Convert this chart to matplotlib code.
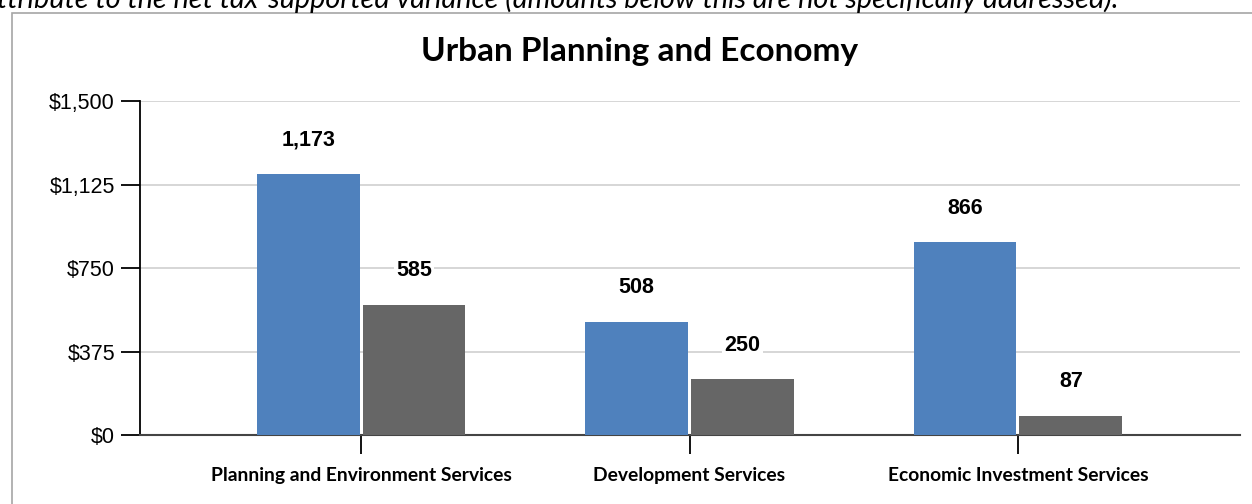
import matplotlib.pyplot as plt
from matplotlib.patches import Rectangle

# --- data --- #
categories = ["Planning and Environment Services", "Development Services", "Economic Investment Services"]
series_a = [1173, 508, 866]
series_b = [585, 250, 87]
y_ticks = [0, 375, 750, 1125, 1500]
y_tick_labels = ["$0", "$375", "$750", "$1,125", "$1,500"]

blue = "#4f81bd"
grey = "#666666"

fig = plt.figure(figsize=(12.52, 5.04), dpi=100)

# outer chart box (cut at right / bottom like the screenshot)
fig.patches.append(Rectangle((12 / 1252, -0.1), 1.2, 1 - 13 / 504 + 0.1,
                             transform=fig.transFigure, fill=False,
                             edgecolor="#a6a6a6", linewidth=1.2))

# clipped line of text from the document above the chart
fig.text(-0.002, 1 - 8 / 504, "ttribute to the net tax-supported variance (amounts below this are not specifically addressed).",
         fontsize=20.8, style="italic", family="Lato", ha="left", va="baseline")

fig.text(640 / 1252, 1 - 52 / 504, "Urban Planning and Economy", fontsize=24,
         fontweight="bold", family="Lato", ha="center", va="center")

ax = fig.add_axes([140 / 1252, 1 - 435 / 504, 1100 / 1252, 334 / 504])

x = list(range(len(categories)))
w = 0.313
off = 0.161
bars_a = ax.bar([i - off for i in x], series_a, width=w, color=blue, zorder=3)
bars_b = ax.bar([i + off for i in x], series_b, width=w, color=grey, zorder=3)

for bars in (bars_a, bars_b):
    for b in bars:
        v = b.get_height()
        ax.annotate(f"{v:,.0f}", (b.get_x() + b.get_width() / 2, v),
                    xytext=(0, 24.5), textcoords="offset points",
                    ha="center", va="center", fontsize=15.5, fontweight="bold",
                    family="Liberation Sans", zorder=4,
                    bbox=dict(boxstyle="square,pad=0.1", fc="white", ec="none"))

ax.set_xlim(-0.673, 2.676)
ax.set_ylim(0, 1500)
ax.set_yticks(y_ticks)
ax.set_yticklabels(y_tick_labels, fontsize=15.5, family="Liberation Sans")
ax.set_xticks(x)
ax.set_xticklabels(categories, fontsize=13.9, fontweight="bold", family="Lato")

ax.yaxis.grid(True, color="#d0d0d0", linewidth=1.2, zorder=0)
ax.set_axisbelow(True)

for s in ("top", "right"):
    ax.spines[s].set_visible(False)
ax.spines["left"].set_color("black")
ax.spines["left"].set_linewidth(1.3)
ax.spines["bottom"].set_color("#444444")
ax.spines["bottom"].set_linewidth(1.5)

ax.tick_params(axis="y", length=14, width=1.3, color="black", pad=4)
ax.tick_params(axis="x", length=14, width=1.3, color="black", pad=9)

fig.savefig("out.png", dpi=100)
